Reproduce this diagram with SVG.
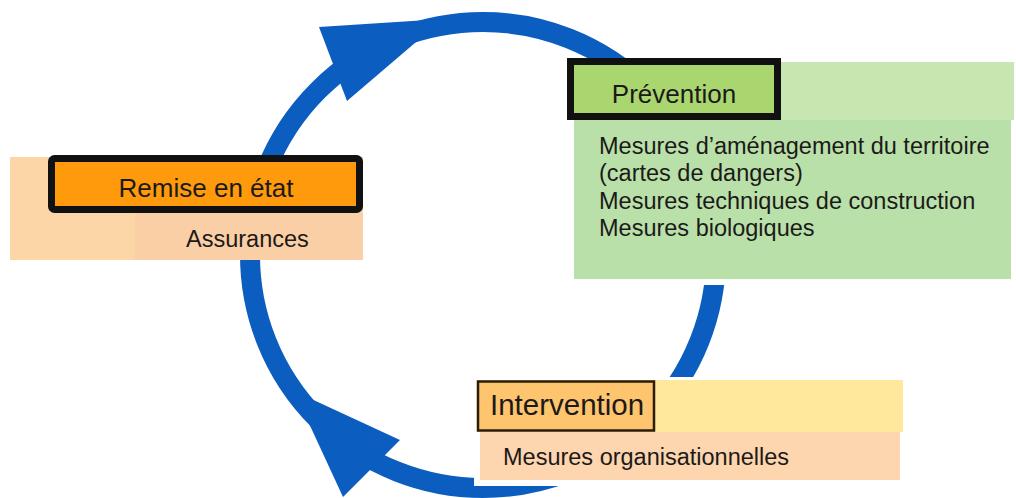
<svg xmlns="http://www.w3.org/2000/svg" width="1016" height="498" viewBox="0 0 1016 498">
  <style>
    text { font-family: "Liberation Sans", Arial, sans-serif; fill: #1c1a18; }
    .title { font-size: 26px; }
    .body { font-size: 23.5px; }
    .ring { fill: none; stroke: #0b5ebf; stroke-width: 20; }
    .head { fill: #0b5ebf; }
    .halo { stroke: #ffffff; stroke-width: 6; }
  </style>

  <rect width="1016" height="498" fill="#ffffff"/>

  <!-- cycle: ring with two arrowheads, flowing clockwise -->
  <g id="connectors">
    <circle class="ring" cx="483" cy="255" r="233"/>
    <polygon class="head" points="319,27 347,101 443,19"/>
    <polygon class="head" points="400,440 343,497 294,391"/>
  </g>

  <!-- Remise en état -->
  <g id="remise">
    <rect x="10" y="157" width="353" height="103" fill="#fdd6a7"/>
    <rect x="135" y="213" width="228" height="47" fill="#fbcfa6"/>
    <rect x="51.5" y="158.5" width="308" height="51" rx="3" fill="#fe9a0c" stroke="#111" stroke-width="7"/>
    <text class="title" x="206" y="197" text-anchor="middle">Remise en état</text>
    <text class="body" x="186" y="247">Assurances</text>
  </g>

  <!-- Prévention -->
  <g id="prevention">
    <rect class="halo" x="571" y="62" width="443" height="220" fill="#b9e0a9"/>
    <rect x="571" y="62" width="443" height="58" fill="#c8e7b0"/>
    <rect x="570.5" y="61.5" width="207" height="55" fill="#a9d66e" stroke="#111" stroke-width="7"/>
    <text class="title" x="674" y="103" text-anchor="middle">Prévention</text>
    <text class="body" x="599" y="153.5">Mesures d’aménagement du territoire</text>
    <text class="body" x="599" y="181">(cartes de dangers)</text>
    <text class="body" x="599" y="208.5">Mesures techniques de construction</text>
    <text class="body" x="599" y="236">Mesures biologiques</text>
  </g>

  <!-- Intervention -->
  <g id="intervention">
    <rect class="halo" x="477" y="380" width="426" height="103" fill="#fdd5ae"/>
    <rect x="477" y="380" width="426" height="52" fill="#ffe89c"/>
    <rect x="478" y="381.5" width="176" height="49" fill="#ffc46e" stroke="#2a1c08" stroke-width="2.5"/>
    <text x="490" y="415" style="font-size:29.5px">Intervention</text>
    <text class="body" x="503" y="465">Mesures organisationnelles</text>
  </g>
</svg>
